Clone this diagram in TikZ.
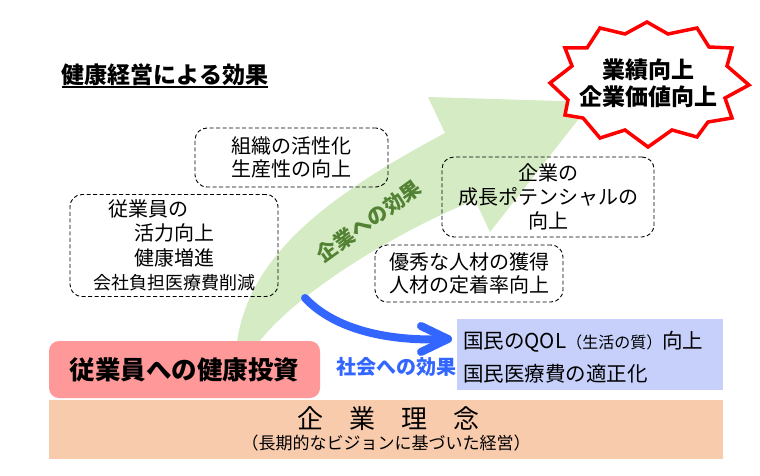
\documentclass[tikz,border=0pt]{standalone}
\usepackage{fontspec}
\setmainfont{Noto Sans CJK JP}
\usetikzlibrary{calc}
\definecolor{arrowgreen}{HTML}{D4EBC3}
\definecolor{textgreen}{HTML}{548235}
\definecolor{socialblue}{HTML}{3366FF}
\definecolor{boxblue}{HTML}{C6D0FA}
\definecolor{boxpink}{HTML}{FF9999}
\definecolor{barbeige}{HTML}{F8CBAD}
\definecolor{burstred}{HTML}{FF0000}
\begin{document}
\begin{tikzpicture}[x=1pt,y=-1pt,
  dbox/.style={draw, dash pattern=on 4pt off 2.5pt, line width=0.9pt, rounded corners=12pt,
    inner sep=0pt, align=center, font=\fontsize{20pt}{24pt}\selectfont},
  garrow/.style={fill=arrowgreen},
  bluearrow/.style={draw=socialblue, line width=8pt, line cap=round, line join=round},
  burstline/.style={fill=white, draw=burstred, line width=3.5pt, line join=miter},
  plain/.style={inner sep=0pt, align=center}]
\useasboundingbox (0,0) rectangle (760,476);
\fill[white] (0,0) rectangle (760,476);

% green curved arrow
\fill[garrow] (236,350) .. controls (245,260) and (320,200) .. (445,133) -- (428,97) -- (592,102)
  -- (490,232) -- (475,200) .. controls (400,230) and (290,295) .. (253,350) -- cycle;

% title
\node[plain, font=\fontsize{23pt}{27pt}\selectfont\bfseries] (title) at (165,75) {健康経営による効果};
\draw[line width=1.6pt] ([yshift=-0.5pt]title.south west) -- ([yshift=-0.5pt]title.south east);

% dashed boxes
\node[dbox, minimum width=193pt, minimum height=59pt, font=\fontsize{20pt}{23pt}\selectfont] (org) at (291.5,157.5) {組織の活性化\\生産性の向上};
\node[dbox, minimum width=208pt, minimum height=102pt, font=\fontsize{20pt}{24.5pt}\selectfont] (emp) at (174,245.5)
  {\makebox[132pt][l]{従業員の}\\活力向上\\健康増進\\{\fontsize{18pt}{22pt}\selectfont 会社負担医療費削減}};
\node[dbox, minimum width=212pt, minimum height=80pt] (growth) at (548,197) {企業の\\成長ポテンシャルの\\向上};
\node[dbox, minimum width=188pt, minimum height=57pt, font=\fontsize{20pt}{23pt}\selectfont] (talent) at (469,273.5) {優秀な人材の獲得\\人材の定着率向上};

% green label
\node[plain, rotate=36, text=textgreen, font=\fontsize{20.5pt}{24pt}\selectfont\bfseries] (corp) at (369,221) {企業への効果};

% starburst
\filldraw[burstline] (647,22) -- (668,34) -- (697,28) -- (709,47) -- (732,48) -- (727,66) -- (749,85)
  -- (725,98) -- (732,118) -- (708,122) -- (697,137) -- (672,130) -- (648,147) -- (625,130)
  -- (600,138) -- (583,118) -- (565,115) -- (568,100) -- (550,83) -- (572,66) -- (565,48)
  -- (587,48) -- (600,28) -- (625,34) -- cycle;
\node[plain, font=\fontsize{23pt}{27pt}\selectfont\bfseries] (burst) at (648,83.5) {業績向上\\企業価値向上};

% bottom bar
\node[fill=barbeige, minimum width=674pt, minimum height=59pt, inner sep=0pt] (bar) at (386,429.5) {};
\node[plain, font=\fontsize{26pt}{30pt}\selectfont] (philo) at (388,419) {企　業　理　念};
\node[plain, font=\fontsize{17pt}{20pt}\selectfont] (philosub) at (386,443) {（長期的なビジョンに基づいた経営）};

% investment box
\node[fill=boxpink, rounded corners=10pt, minimum width=271pt, minimum height=57pt, inner sep=0pt,
  font=\fontsize{25.5pt}{30pt}\selectfont\bfseries] (invest) at (184.5,369.5) {従業員への健康投資};

% society box
\node[fill=boxblue, minimum width=266pt, minimum height=71pt, inner sep=0pt] (society) at (590,354.5) {};
\node[plain, anchor=west, align=left, font=\fontsize{20.5pt}{33pt}\selectfont] (societytext) at (463,357.5)
  {国民のQOL{\fontsize{16pt}{16pt}\selectfont（生活の質）}向上\\国民医療費の適正化};

% blue arrow
\coordinate (bs) at (305,298);
\coordinate (be) at (448,339);
\draw[bluearrow] (bs) .. controls (335,330) and (390,342) .. (be);
\draw[bluearrow] ([shift={(-27,-13)}]be) -- (be) -- ([shift={(-27,13)}]be);
\node[plain, text=socialblue, font=\fontsize{20pt}{24pt}\selectfont\bfseries] (soclabel) at (396,367) {社会への効果};
\end{tikzpicture}
\end{document}
